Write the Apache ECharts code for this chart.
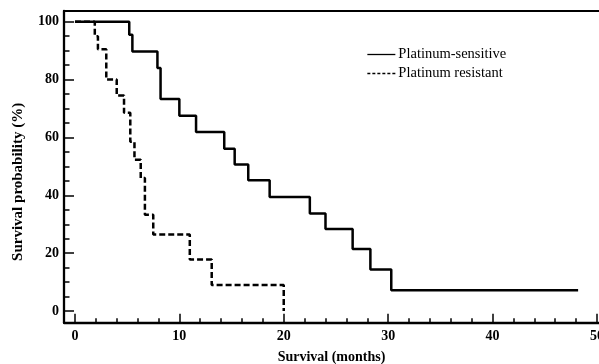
<!DOCTYPE html>
<html>
<head>
<meta charset="utf-8">
<script src="https://cdn.jsdelivr.net/npm/echarts@6/dist/echarts.min.js"></script>
<style>
html,body{margin:0;padding:0;background:#fff;}
#chart{width:599px;height:364px;}
</style>
</head>
<body>
<div id="chart"></div>
<script>
// Kaplan-Meier steps: [month, survival %] (value after the drop at that month)
const sensitiveName = 'Platinum-sensitive';
const sensitiveData = [
  [0, 100], [5.2, 95.5], [5.5, 89.7], [7.9, 84.0], [8.2, 73.3], [10.0, 67.5],
  [11.6, 61.9], [14.3, 56.1], [15.3, 50.7], [16.6, 45.2], [18.65, 39.4],
  [22.5, 33.7], [24.0, 28.4], [26.6, 21.5], [28.3, 14.4], [30.3, 7.2], [48.2, 7.2]
];
const resistantName = 'Platinum resistant';
const resistantData = [
  [0, 100], [1.9, 95.0], [2.2, 90.5], [3.0, 80.0], [4.0, 74.5], [4.7, 68.5],
  [5.3, 58.5], [5.7, 52.3], [6.3, 46.0], [6.7, 33.3], [7.5, 26.5],
  [11.0, 17.8], [13.1, 9.0], [20.0, 0]
];
const xMajorTicks = [0, 10, 20, 30, 40, 50];
const xMinorTicks = [2, 4, 6, 8, 12, 14, 16, 18, 22, 24, 26, 28, 32, 34, 36, 38, 42, 44, 46, 48];
const yMajorTicks = [0, 20, 40, 60, 80, 100];
const yMinorTicks = [5, 10, 15, 25, 30, 35, 45, 50, 55, 65, 70, 75, 85, 90, 95];
const xTitle = 'Survival (months)';
const yTitle = 'Survival probability (%)';

const serif = '"Liberation Serif","Times New Roman",serif';
const chart = echarts.init(document.getElementById('chart'), null, {renderer: 'canvas'});
const xMin = -1.05, xMax = 50.2, yMin = -4, yMax = 103.7;
const lineW = 2.3;

chart.setOption({
  animation: false,
  backgroundColor: '#fff',
  grid: {left: 64, right: 0, top: 11, bottom: 41.3, containLabel: false, outerBoundsMode: 'none'},
  legend: {
    orient: 'vertical', left: 366.7, top: 47, padding: 0, itemWidth: 28, itemHeight: 12, itemGap: 4,
    textStyle: {fontFamily: serif, fontSize: 14.5, color: '#000', padding: [0, 0, 0, -2]},
    itemStyle: {opacity: 0},
    data: [
      {name: sensitiveName, itemStyle: {opacity: 0}, lineStyle: {width: 1.3, type: 'solid', color: '#000'}},
      {name: resistantName, itemStyle: {opacity: 0}, lineStyle: {width: 1.3, type: [3, 2], color: '#000'}}
    ]
  },
  xAxis: [
    {
      type: 'value', min: xMin, max: xMax, position: 'bottom',
      name: xTitle, nameLocation: 'middle', nameGap: 28,
      nameTextStyle: {fontFamily: serif, fontSize: 14, fontWeight: 'bold', color: '#000'},
      axisLine: {show: true, onZero: false, lineStyle: {color: '#000', width: lineW}},
      axisTick: {show: true, inside: true, length: 9, customValues: xMajorTicks, lineStyle: {color: '#000', width: 1.5}},
      axisLabel: {show: true, customValues: xMajorTicks, margin: 7, fontFamily: serif, fontSize: 14, fontWeight: 'bold', color: '#000', hideOverlap: false, showMaxLabel: true},
      splitLine: {show: false}
    },
    {
      type: 'value', min: xMin, max: xMax, position: 'bottom',
      axisLine: {show: false, onZero: false},
      axisTick: {show: true, inside: true, length: 4.5, customValues: xMinorTicks, lineStyle: {color: '#000', width: 1.5}},
      axisLabel: {show: false},
      splitLine: {show: false}
    },
    {
      type: 'value', min: xMin, max: xMax, position: 'top',
      axisLine: {show: true, onZero: false, lineStyle: {color: '#000', width: 2}},
      axisTick: {show: false}, axisLabel: {show: false}, splitLine: {show: false}
    }
  ],
  yAxis: [
    {
      type: 'value', min: yMin, max: yMax, position: 'left',
      name: yTitle, nameLocation: 'middle', nameGap: 38,
      nameTextStyle: {fontFamily: serif, fontSize: 15, fontWeight: 'bold', color: '#000', padding: [0, 30, 0, 0]},
      axisLine: {show: true, onZero: false, lineStyle: {color: '#000', width: lineW}},
      axisTick: {show: true, inside: true, length: 10, customValues: yMajorTicks, lineStyle: {color: '#000', width: 1.5}},
      axisLabel: {show: true, customValues: yMajorTicks, margin: 5, fontFamily: serif, fontSize: 14, fontWeight: 'bold', color: '#000'},
      splitLine: {show: false}
    },
    {
      type: 'value', min: yMin, max: yMax, position: 'left',
      axisLine: {show: false, onZero: false},
      axisTick: {show: true, inside: true, length: 5.5, customValues: yMinorTicks, lineStyle: {color: '#000', width: 1.5}},
      axisLabel: {show: false},
      splitLine: {show: false}
    }
  ],
  series: [
    {
      name: sensitiveName, type: 'line', step: 'end', data: sensitiveData,
      xAxisIndex: 0, yAxisIndex: 0, symbol: 'none', showSymbol: false,
      itemStyle: {color: '#000'},
      lineStyle: {color: '#000', width: 2.5, type: 'solid'}, clip: false
    },
    {
      name: resistantName, type: 'line', step: 'end', data: resistantData,
      xAxisIndex: 0, yAxisIndex: 0, symbol: 'none', showSymbol: false,
      itemStyle: {color: '#000'},
      lineStyle: {color: '#000', width: 2.5, type: [6, 3]}, clip: false
    }
  ]
});
</script>
</body>
</html>
